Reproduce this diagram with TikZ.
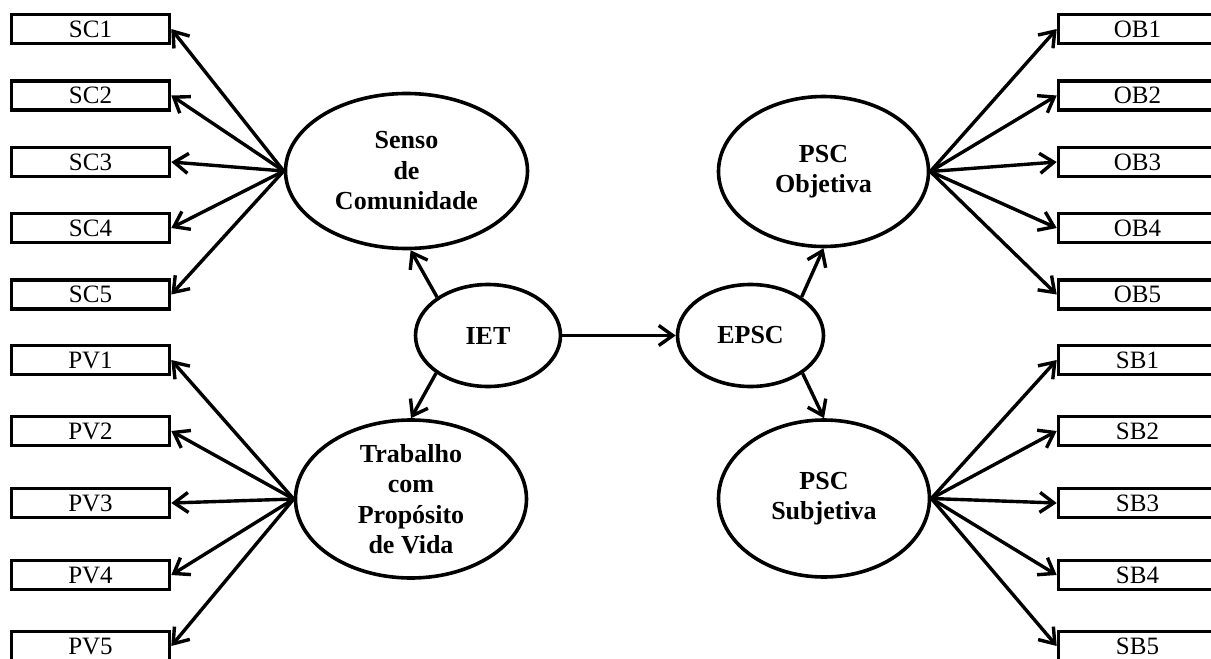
\documentclass[tikz,border=0pt]{standalone}
\usepackage{fontspec}
\setmainfont{Liberation Serif}
\usetikzlibrary{shapes.geometric,arrows.meta}
\begin{document}
\begin{tikzpicture}[x=1pt,y=-1pt,
  ind/.style={draw,line width=3.6pt,rectangle,minimum width=158pt,minimum height=29pt,inner sep=0pt,font=\fontsize{25}{29}\selectfont},
  lat/.style={draw,line width=3.6pt,ellipse,inner sep=0pt,align=center,font=\fontsize{26}{30.5}\selectfont\bfseries},
  arr/.style={line width=3.4pt,-{Straight Barb[length=14pt,width=20pt]}}]
\useasboundingbox (0,0) rectangle (1211,659);
% latent variables
\node[lat,minimum width=242pt,minimum height=155pt] (sc) at (406.5,171) {Senso\\de\\Comunidade};
\node[lat,minimum width=231pt,minimum height=158pt] (pv) at (411,499) {Trabalho\\com\\Propósito\\de Vida};
\node[lat,minimum width=145pt,minimum height=102pt] (iet) at (488,335.5) {IET};
\node[lat,minimum width=146pt,minimum height=102pt] (epsc) at (750.5,335.5) {EPSC};
\node[lat,minimum width=210pt,minimum height=150pt] (ob) at (823.5,171.5) {PSC\\Objetiva};
\node[lat,minimum width=211pt,minimum height=157pt] (sb) at (824,498.5) {PSC\\Subjetiva};
% indicators
\foreach \i/\y in {1/29,2/95.5,3/162,4/228,5/294.5}{
  \node[ind] (SC\i) at (90.5,\y) {SC\i};
  \node[ind] (OB\i) at (1137.5,\y) {OB\i};
}
\foreach \i/\y in {1/360,2/431,3/503,4/575,5/646}{
  \node[ind] (PV\i) at (90.5,\y) {PV\i};
  \node[ind] (SB\i) at (1137.5,\y) {SB\i};
}
% loadings
\foreach \i in {1,...,5}{
  \draw[arr] (sc.west) -- (SC\i.east);
  \draw[arr] (pv.west) -- (PV\i.east);
  \draw[arr] (ob.east) -- (OB\i.west);
  \draw[arr] (sb.east) -- (SB\i.west);
}
% structural paths
\draw[arr] (iet.143) -- (sc.-87);
\draw[arr] (iet.216) -- (pv.north);
\draw[arr] (iet.east) -- (epsc.west);
\draw[arr] (epsc.37) -- (ob.south);
\draw[arr] (epsc.-36) -- (sb.north);
\end{tikzpicture}
\end{document}
